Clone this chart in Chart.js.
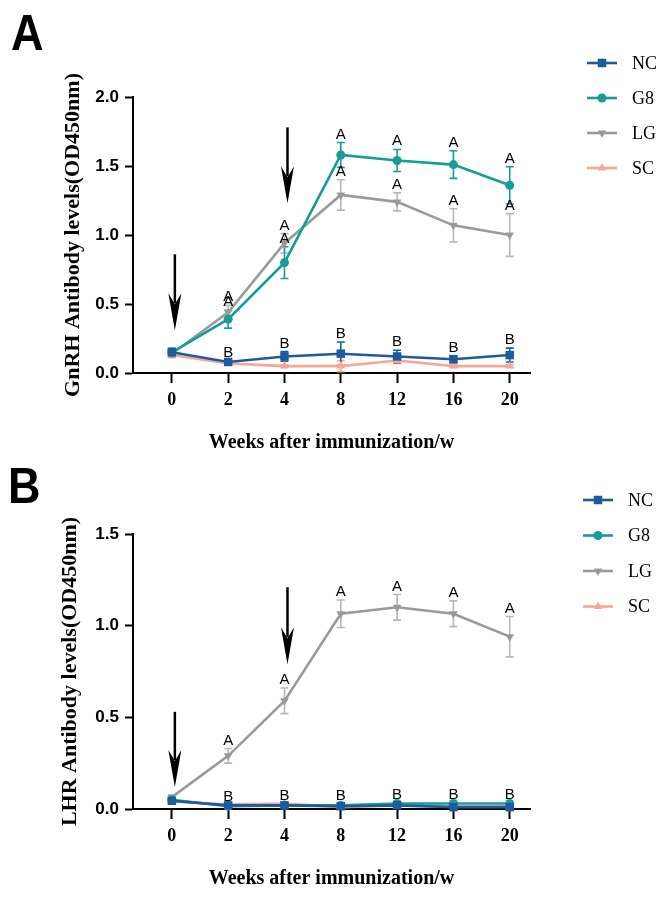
<!DOCTYPE html>
<html>
<head>
<meta charset="utf-8">
<script src="https://cdn.jsdelivr.net/npm/chart.js@4"></script>
<style>
  html, body { margin: 0; padding: 0; background: #fff; }
  body { width: 672px; height: 899px; position: relative; overflow: hidden; }
  canvas { position: absolute; left: 0; }
  #chartA { top: 0; }
  #chartB { top: 470px; }
  .tag { position: absolute; font-family: "Liberation Sans", Arial, sans-serif; font-weight: bold;
         font-size: 50px; line-height: 1; transform: scaleX(0.9); transform-origin: left top; color: #000; }
</style>
</head>
<body>
<canvas id="chartA" width="672" height="470"></canvas>
<canvas id="chartB" width="672" height="429"></canvas>
<div class="tag" style="left:11px; top:8px;">A</div>
<div class="tag" style="left:8px; top:461px;">B</div>
<script>
// ---------- shared categories ----------
const weekLabels = ['0', '2', '4', '8', '12', '16', '20'];
const groupNames = ['NC', 'G8', 'LG', 'SC'];

// ---------- Panel A : GnRH antibody ----------
const gnrhTicks   = [0, 0.5, 1.0, 1.5, 2.0];
const gnrhNC      = [0.15, 0.08, 0.12, 0.14, 0.12, 0.10, 0.13];
const gnrhNCsd    = [0.02, 0.01, 0.035, 0.085, 0.045, 0.025, 0.05];
const gnrhG8      = [0.15, 0.39, 0.80, 1.58, 1.54, 1.51, 1.36];
const gnrhG8sd    = [0.03, 0.065, 0.115, 0.09, 0.08, 0.10, 0.135];
const gnrhLG      = [0.14, 0.44, 0.94, 1.29, 1.24, 1.07, 1.00];
const gnrhLGsd    = [0.02, 0.05, 0.07, 0.11, 0.065, 0.12, 0.155];
const gnrhSC      = [0.13, 0.07, 0.05, 0.05, 0.09, 0.05, 0.05];
const gnrhSCsd    = [0.02, 0.01, 0.01, 0.04, 0.02, 0.01, 0.01];
const gnrhLetNC   = ['', 'B', 'B', 'B', 'B', 'B', 'B'];
const gnrhLetG8   = ['', 'A', 'A', 'A', 'A', 'A', 'A'];
const gnrhLetLG   = ['', 'A', 'A', 'A', 'A', 'A', 'A'];
const gnrhLetSC   = ['', '', '', '', '', '', ''];
const gnrhArrows  = [{ week: 0, from: 0.86, to: 0.31 }, { week: 2, from: 1.78, to: 1.23 }];

// ---------- Panel B : LHR antibody ----------
const lhrTicks    = [0, 0.5, 1.0, 1.5];
const lhrNC       = [0.045, 0.02, 0.02, 0.015, 0.02, 0.01, 0.01];
const lhrNCsd     = [0.008, 0.005, 0.005, 0.005, 0.005, 0.005, 0.005];
const lhrG8       = [0.05, 0.015, 0.02, 0.02, 0.03, 0.03, 0.03];
const lhrG8sd     = [0.008, 0.005, 0.005, 0.005, 0.005, 0.005, 0.005];
const lhrLG       = [0.065, 0.29, 0.59, 1.065, 1.10, 1.065, 0.94];
const lhrLGsd     = [0.01, 0.04, 0.07, 0.075, 0.07, 0.07, 0.11];
const lhrSC       = [0.04, 0.025, 0.03, 0.01, 0.02, 0.015, 0.015];
const lhrSCsd     = [0.008, 0.005, 0.005, 0.005, 0.005, 0.005, 0.005];
const lhrLetNC    = ['', '', '', '', '', '', ''];
const lhrLetG8    = ['', 'B', 'B', 'B', 'B', 'B', 'B'];
const lhrLetLG    = ['', 'A', 'A', 'A', 'A', 'A', 'A'];
const lhrLetSC    = ['', '', '', '', '', '', ''];
const lhrArrows   = [{ week: 0, from: 0.53, to: 0.12 }, { week: 2, from: 1.21, to: 0.79 }];

// ---------- styles ----------
const STYLE = {
  NC: { color: '#1d5c9c', err: '#1d5c9c', pointStyle: 'rect', radius: 6, rotation: 0 },
  G8: { color: '#189c96', err: '#189c96', pointStyle: 'circle', radius: 4.5, rotation: 0 },
  LG: { color: '#9a9a9a', err: '#b8b8b8', pointStyle: 'triangle', radius: 5, rotation: 180 },
  SC: { color: '#f5a898', err: '#f5a898', pointStyle: 'triangle', radius: 5, rotation: 0 }
};

function makeDataset(name, values, sd, letters) {
  const s = STYLE[name];
  return {
    label: name,
    data: values.map((v, i) => ({ x: i, y: v })),
    sd: sd,
    letters: letters,
    errColor: s.err,
    borderColor: s.color,
    backgroundColor: s.color,
    borderWidth: 2.6,
    pointStyle: s.pointStyle,
    pointRadius: s.radius,
    pointRotation: s.rotation,
    pointBorderWidth: 0,
    pointBackgroundColor: s.color,
    tension: 0,
    clip: false
  };
}

const extrasPlugin = {
  id: 'extras',
  beforeDatasetsDraw(chart) {
    const ctx = chart.ctx, xs = chart.scales.x, ys = chart.scales.y;
    const dsets = chart.data.datasets;
    for (let di = dsets.length - 1; di >= 0; di--) {
      const ds = dsets[di];
      ctx.save();
      ctx.strokeStyle = ds.errColor;
      ctx.lineWidth = 1.6;
      ds.data.forEach((p, i) => {
        const sd = ds.sd[i];
        if (!sd) return;
        const x = xs.getPixelForValue(p.x);
        const y1 = ys.getPixelForValue(p.y + sd);
        const y2 = ys.getPixelForValue(Math.max(0, p.y - sd));
        ctx.beginPath();
        ctx.moveTo(x, y1); ctx.lineTo(x, y2);
        ctx.moveTo(x - 4, y1); ctx.lineTo(x + 4, y1);
        ctx.moveTo(x - 4, y2); ctx.lineTo(x + 4, y2);
        ctx.stroke();
      });
      ctx.restore();
    }
  },
  afterDatasetsDraw(chart, args, opts) {
    const ctx = chart.ctx, xs = chart.scales.x, ys = chart.scales.y;
    // significance letters
    ctx.save();
    ctx.font = '15px "Liberation Sans", Arial, sans-serif';
    ctx.fillStyle = '#000';
    ctx.textAlign = 'center';
    ctx.textBaseline = 'alphabetic';
    chart.data.datasets.forEach(ds => {
      ds.data.forEach((p, i) => {
        const t = ds.letters[i];
        if (!t) return;
        const x = xs.getPixelForValue(p.x);
        const y = ys.getPixelForValue(p.y + (ds.sd[i] || 0));
        ctx.fillText(t, x, y - 4);
      });
    });
    ctx.restore();
    // immunization arrows
    ctx.save();
    ctx.fillStyle = '#000';
    ctx.strokeStyle = '#000';
    ctx.lineWidth = 2.5;
    (opts.arrows || []).forEach(a => {
      const x = xs.getPixelForValue(a.week) + 3;
      const yt = ys.getPixelForValue(a.from);
      const yb = ys.getPixelForValue(a.to);
      const hl = 37, hw = 6.5;
      ctx.beginPath();
      ctx.moveTo(x, yt); ctx.lineTo(x, yb - hl + 10);
      ctx.stroke();
      ctx.beginPath();
      ctx.moveTo(x, yb);
      ctx.lineTo(x - hw, yb - hl);
      ctx.lineTo(x, yb - hl + 11);
      ctx.lineTo(x + hw, yb - hl);
      ctx.closePath();
      ctx.fill();
    });
    ctx.restore();
  },
  afterDraw(chart, args, opts) {
    const ctx = chart.ctx;
    const lg = opts.legend;
    ctx.save();
    chart.data.datasets.forEach((ds, i) => {
      const s = STYLE[ds.label];
      const y = lg.y + i * lg.gap;
      ctx.strokeStyle = s.color;
      ctx.fillStyle = s.color;
      ctx.lineWidth = 2.6;
      ctx.beginPath();
      ctx.moveTo(lg.x, y); ctx.lineTo(lg.x + 30, y);
      ctx.stroke();
      Chart.helpers.drawPoint(ctx, { pointStyle: s.pointStyle, radius: s.radius, rotation: s.rotation, borderWidth: 0 }, lg.x + 15, y);
      ctx.fillStyle = '#000';
      ctx.font = '18px "Liberation Serif", "Times New Roman", serif';
      ctx.textAlign = 'left';
      ctx.textBaseline = 'middle';
      ctx.fillText(ds.label, lg.x + 45, y + 1);
    });
    ctx.restore();
  }
};

function axisCommon() {
  return {
    grid: { display: true, drawOnChartArea: false, drawTicks: true, tickWidth: 2, tickColor: '#000', color: '#000' },
    border: { display: true, color: '#000', width: 2 }
  };
}

function makeChart(id, cfg) {
  const xc = axisCommon(), yc = axisCommon();
  return new Chart(document.getElementById(id), {
    type: 'line',
    data: { datasets: cfg.datasets },
    plugins: [extrasPlugin],
    options: {
      responsive: false,
      animation: false,
      layout: { padding: { top: cfg.top, right: 142, left: 0, bottom: 0 } },
      plugins: {
        legend: { display: false },
        tooltip: { enabled: false },
        extras: { arrows: cfg.arrows, legend: cfg.legend }
      },
      scales: {
        x: {
          type: 'linear',
          min: -0.69, max: 6.36,
          afterBuildTicks: s => { s.ticks = weekLabels.map((_, i) => ({ value: i })); },
          afterFit: s => { s.height = cfg.xHeight; },
          ticks: {
            autoSkip: false, maxRotation: 0, padding: 7, color: '#000',
            callback: (v, i) => weekLabels[i],
            font: { family: '"Liberation Serif", "Times New Roman", serif', weight: 'bold', size: 18 }
          },
          grid: Object.assign(xc.grid, { tickLength: 10 }),
          border: xc.border,
          title: {
            display: true, text: 'Weeks after immunization/w', color: '#000',
            font: { family: '"Liberation Serif", "Times New Roman", serif', weight: 'bold', size: 20 },
            padding: { top: 0, bottom: cfg.xTitlePad }
          }
        },
        y: {
          min: 0, max: cfg.yMax,
          afterBuildTicks: s => { s.ticks = cfg.yTicks.map(v => ({ value: v })); },
          afterFit: s => { s.width = 133; },
          ticks: {
            padding: 6, color: '#000',
            callback: v => Number(v).toFixed(1),
            font: { family: '"Liberation Sans", Arial, sans-serif', weight: 'bold', size: 17 }
          },
          grid: Object.assign(yc.grid, { tickLength: 8 }),
          border: yc.border,
          title: {
            display: true, text: cfg.yTitle, color: '#000',
            font: { family: '"Liberation Serif", "Times New Roman", serif', weight: 'bold', size: 22 },
            padding: { top: cfg.yTitlePad, bottom: 0 }
          }
        }
      }
    }
  });
}

makeChart('chartA', {
  datasets: [
    makeDataset('NC', gnrhNC, gnrhNCsd, gnrhLetNC),
    makeDataset('G8', gnrhG8, gnrhG8sd, gnrhLetG8),
    makeDataset('LG', gnrhLG, gnrhLGsd, gnrhLetLG),
    makeDataset('SC', gnrhSC, gnrhSCsd, gnrhLetSC)
  ],
  top: 97, xHeight: 97, xTitlePad: 15, yTitlePad: 60,
  yMax: 2.0, yTicks: gnrhTicks,
  yTitle: 'GnRH Antibody levels(OD450nm)',
  arrows: gnrhArrows,
  legend: { x: 587, y: 63, gap: 35 }
});

makeChart('chartB', {
  datasets: [
    makeDataset('NC', lhrNC, lhrNCsd, lhrLetNC),
    makeDataset('G8', lhrG8, lhrG8sd, lhrLetG8),
    makeDataset('LG', lhrLG, lhrLGsd, lhrLetLG),
    makeDataset('SC', lhrSC, lhrSCsd, lhrLetSC)
  ],
  top: 64, xHeight: 90, xTitlePad: 8, yTitlePad: 57,
  yMax: 1.5, yTicks: lhrTicks,
  yTitle: 'LHR Antibody levels(OD450nm)',
  arrows: lhrArrows,
  legend: { x: 583, y: 30, gap: 35.5 }
});
</script>
</body>
</html>
